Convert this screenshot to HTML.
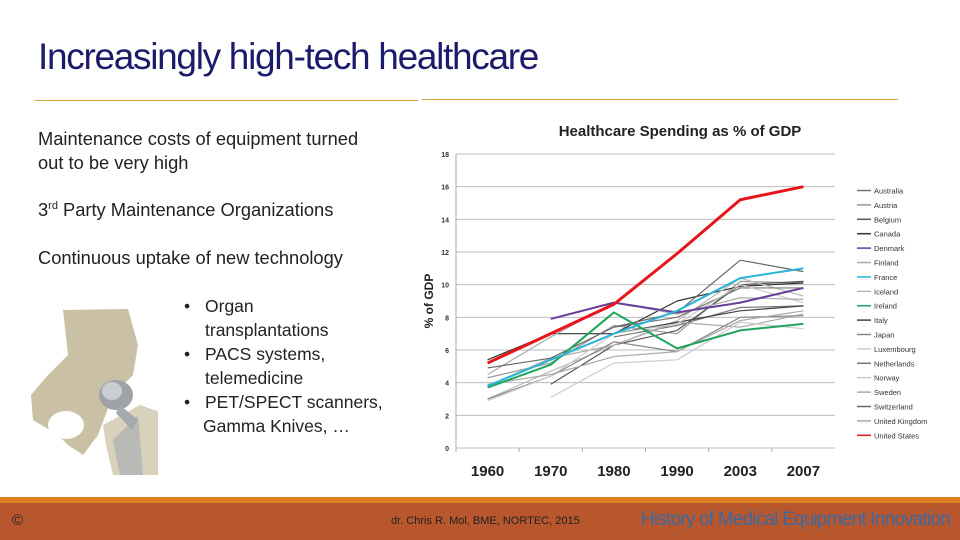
<!DOCTYPE html>
<html><head><meta charset="utf-8"><style>
body{margin:0;width:960px;height:540px;overflow:hidden;background:#fff;font-family:"Liberation Sans",sans-serif;position:relative}
.t{position:absolute;white-space:nowrap}
.b{position:absolute;left:184px;font-size:17.5px;color:#222;white-space:nowrap}
.b span{position:absolute;left:21px}
</style></head><body>
<div class="t" style="left:38px;top:36px;font-size:37px;color:#1c1a6b;letter-spacing:-1.3px">Increasingly high-tech healthcare</div>
<div style="position:absolute;left:35px;top:100px;width:383px;height:1px;background:#d99a3a"></div>
<div style="position:absolute;left:422px;top:99px;width:476px;height:1px;background:#d99a3a"></div>
<div class="t" style="left:38px;top:127px;font-size:18.3px;line-height:24px;color:#222">Maintenance costs of equipment turned<br>out to be very high</div>
<div class="t" style="left:38px;top:199px;font-size:18.3px;color:#222">3<sup style="font-size:11px">rd</sup> Party Maintenance Organizations</div>
<div class="t" style="left:38px;top:247px;font-size:18.3px;color:#222">Continuous uptake of new technology</div>
<div>
<div class="b" style="top:296px">•<span>Organ</span></div>
<div class="b" style="top:320px"><span>transplantations</span></div>
<div class="b" style="top:344px">•<span>PACS systems,</span></div>
<div class="b" style="top:368px"><span>telemedicine</span></div>
<div class="b" style="top:392px">•<span>PET/SPECT scanners,</span></div>
<div class="b" style="top:416px"><span style="left:19px">Gamma Knives, …</span></div>
</div>
<svg style="position:absolute;left:28px;top:305px" width="130" height="170">
<path d="M35 5 L100 4 L110 40 L105 70 L85 90 L70 130 L55 150 L40 140 L30 130 L5 115 L3 90 L20 70 L40 50 Z" fill="#c9c0a5"/>
<ellipse cx="38" cy="120" rx="18" ry="14" fill="#fff"/>
<path d="M75 120 L112 100 L140 110 L135 170 L85 170 L78 140 Z" fill="#d8d2bd"/>
<path d="M85 135 L110 110 L115 170 L92 170 Z" fill="#b9b9b6"/>
<ellipse cx="88" cy="90" rx="17" ry="15" fill="#9fa3a8"/>
<ellipse cx="84" cy="86" rx="10" ry="9" fill="#c9ccd0"/>
<path d="M92 100 L110 115 L104 125 L88 108 Z" fill="#a7aaad"/>
</svg>
<svg id="chart" style="position:absolute;left:0;top:0" width="960" height="540"></svg>
<div style="position:absolute;left:0;top:497px;width:960px;height:6px;background:#e07f1d"></div>
<div style="position:absolute;left:0;top:503px;width:960px;height:37px;background:#b8562d"></div>
<div class="t" style="left:12px;top:512px;font-size:15px;color:#222">©</div>
<div class="t" style="left:391px;top:515px;font-size:11px;color:#222">dr. Chris R. Mol, BME, NORTEC, 2015</div>
<div class="t" style="left:641px;top:509px;font-size:19px;color:#3b6aa0;letter-spacing:-0.8px">History of Medical Equipment Innovation</div>
<script>
const years=["1960","1970","1980","1990","2003","2007"];
const yTicks=[0,2,4,6,8,10,12,14,16,18];
const countries=["Australia","Austria","Belgium","Canada","Denmark","Finland","France","Iceland","Ireland","Italy","Japan","Luxembourg","Netherlands","Norway","Sweden","Switzerland","United Kingdom","United States"];
const colors=["#777","#999","#555","#333","#6a3d9a","#aaa","#29b5d6","#bbb","#1fa45a","#444","#888","#ccc","#777","#ccc","#aaa","#666","#aaa","#e8141b"];
const vAustralia=[null,null,6.8,7.5,8.6,8.7];
const vAustria=[4.3,5.2,7.5,7.0,10.2,10.1];
const vBelgium=[null,3.9,6.3,7.2,10.0,10.2];
const vCanada=[5.4,7.0,7.0,9.0,9.9,10.1];
const vDenmark=[null,7.9,8.9,8.3,8.9,9.8];
const vFinland=[3.8,5.5,6.3,7.7,7.4,8.2];
const vFrance=[3.8,5.4,7.0,8.4,10.4,11.0];
const vIceland=[3.0,4.7,6.3,7.8,10.4,9.3];
const vIreland=[3.7,5.1,8.3,6.1,7.2,7.6];
const vItaly=[null,null,7.0,7.7,8.4,8.7];
const vJapan=[3.0,4.4,6.5,5.9,8.0,8.1];
const vLuxembourg=[null,3.1,5.2,5.4,7.7,7.3];
const vNetherlands=[null,null,7.4,8.0,9.8,9.8];
const vNorway=[2.9,4.4,7.0,7.6,10.0,8.9];
const vSweden=[4.5,6.8,8.9,8.2,9.2,9.1];
const vSwitzerland=[4.9,5.5,7.4,8.3,11.5,10.8];
const vUK=[3.9,4.5,5.6,5.9,7.8,8.4];
const vUS=[5.2,7.0,8.8,11.9,15.2,16.0];
const series=[vAustralia,vAustria,vBelgium,vCanada,vDenmark,vFinland,vFrance,vIceland,vIreland,vItaly,vJapan,vLuxembourg,vNetherlands,vNorway,vSweden,vSwitzerland,vUK,vUS];
const NS="http://www.w3.org/2000/svg";
const svg=document.getElementById("chart");
const X0=456,X1=835,Y0=448,Y1=154;
const xs=i=>X0+(X1-X0)*(i+0.5)/years.length;
const ys=v=>Y0-(Y0-Y1)*v/18;
function mk(t,a){const e=document.createElementNS(NS,t);for(const k in a)e.setAttribute(k,a[k]);svg.appendChild(e);return e;}
let e=mk("text",{x:680,y:136,"text-anchor":"middle","font-size":"15","font-weight":"bold","font-family":"Liberation Sans,sans-serif",fill:"#222"});
e.textContent="Healthcare Spending as % of GDP";


e=mk("text",{x:0,y:0,transform:"translate(433,301) rotate(-90)","text-anchor":"middle","font-size":"12","font-weight":"bold","font-family":"Liberation Sans,sans-serif",fill:"#222"});
e.textContent="% of GDP";


yTicks.forEach(t=>{
 const g=mk("line",{x1:X0,x2:X1,y1:ys(t),y2:ys(t),stroke:"#bbb","stroke-width":1});
 
 
 const l=mk("text",{x:449,y:ys(t)+3,"text-anchor":"end","font-size":"7","font-weight":"bold","font-family":"Liberation Sans,sans-serif",fill:"#333"});
 l.textContent=t;
 
 
});
e=mk("line",{x1:X0,x2:X0,y1:Y1,y2:Y0,stroke:"#aaa"});


years.forEach((y,i)=>{
 const l=mk("text",{x:xs(i),y:476,"text-anchor":"middle","font-size":"15","font-weight":"bold","font-family":"Liberation Sans,sans-serif",fill:"#222"});
 l.textContent=y;
 
 
 const tk=mk("line",{x1:X0+(X1-X0)*i/years.length,x2:X0+(X1-X0)*i/years.length,y1:Y0,y2:Y0+4,stroke:"#aaa"});
 
 
});
const order=[...series.keys()].filter(i=>![4,6,8,17].includes(i)).concat([8,4,6,17]);
order.forEach(k=>{
 const pts=[];series[k].forEach((v,i)=>{if(v!==null)pts.push(xs(i)+","+ys(v));});
 const w=k===17?3:(k===4||k===6||k===8?2:1.2);
 const p=mk("polyline",{points:pts.join(" "),fill:"none",stroke:colors[k],"stroke-width":w,"stroke-linejoin":"round"});
 
 
});
countries.forEach((c,k)=>{
 const y=190.5+k*14.4;
 const l=mk("line",{x1:857,x2:871,y1:y,y2:y,stroke:colors[k],"stroke-width":1.5});
 
 
 const t=mk("text",{x:874,y:y+3,"font-size":"7.5","font-family":"Liberation Sans,sans-serif",fill:"#333"});
 t.textContent=c;
 
 
});
</script>
</body></html>
